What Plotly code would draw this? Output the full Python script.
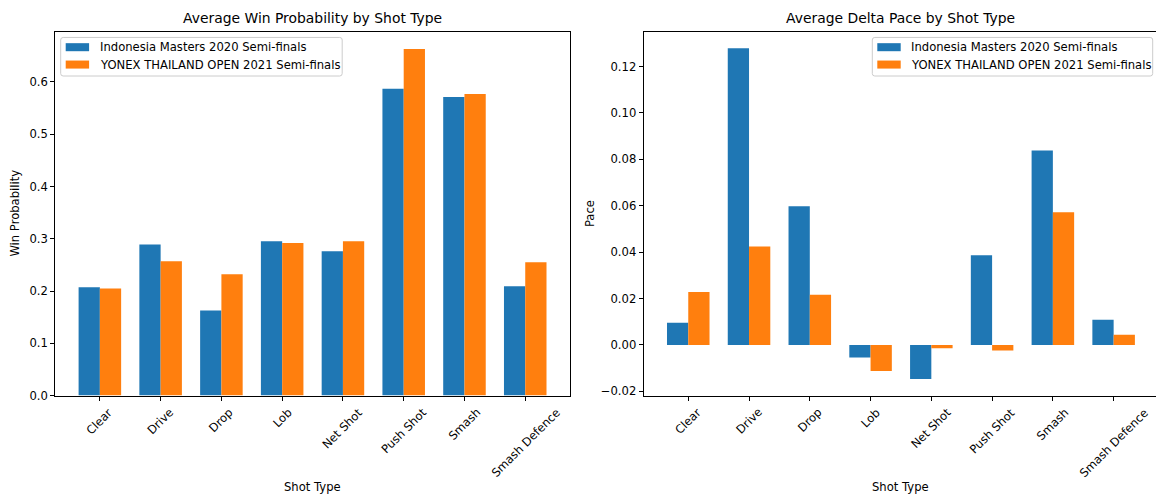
import plotly.graph_objects as go

# Shot types and per-tournament averages
categories = ["Clear", "Drive", "Drop", "Lob", "Net Shot", "Push Shot", "Smash", "Smash Defence"]
series_names = ["Indonesia Masters 2020 Semi-finals", "YONEX THAILAND OPEN 2021 Semi-finals"]

win_indonesia = [0.207, 0.289, 0.163, 0.295, 0.276, 0.587, 0.571, 0.209]
win_thailand = [0.205, 0.257, 0.232, 0.292, 0.295, 0.663, 0.577, 0.255]

pace_indonesia = [0.0096, 0.1279, 0.0598, -0.0054, -0.0147, 0.0387, 0.0838, 0.0109]
pace_thailand = [0.0228, 0.0424, 0.0216, -0.0112, -0.0014, -0.0024, 0.0572, 0.0044]

# layout is designed on a 1156 x 494 grid; the figure itself is a little taller
W, H = 1156, 494
FIG_H = 503
BLUE, ORANGE = "#1f77b4", "#ff7f0e"
FONT = "DejaVu Sans"
FS = 11.6
TITLE_FS = 13.9
BAR_W = 0.35


def px(x):
    return x / W


def py(y):
    return 1 - y / H


x_idx = list(range(len(categories)))

# axes geometry (pixels)
AX_TOP, AX_BOT = 31.5, 394
L_LEFT, L_RIGHT = 55.2, 569.9
R_LEFT = 643.6
UNIT_PX = (L_RIGHT - L_LEFT) / 8.47
r_hi = -0.735 + (W - R_LEFT) / UNIT_PX

fig = go.Figure()

panels = [
    ("x", "y", win_indonesia, win_thailand),
    ("x2", "y2", pace_indonesia, pace_thailand),
]
for xa, ya, s1, s2 in panels:
    fig.add_trace(go.Bar(x=x_idx, y=s1, name=series_names[0], marker=dict(color=BLUE, line=dict(width=0)),
                         width=BAR_W, offset=-BAR_W, xaxis=xa, yaxis=ya, showlegend=False))
    fig.add_trace(go.Bar(x=x_idx, y=s2, name=series_names[1], marker=dict(color=ORANGE, line=dict(width=0)),
                         width=BAR_W, offset=0, xaxis=xa, yaxis=ya, showlegend=False))

# y limits with 5% headroom (bars anchored at zero on the first panel)
win_top = max(win_indonesia + win_thailand) * 1.05
p_all = pace_indonesia + pace_thailand
p_lo, p_hi = min(p_all), max(p_all)
p_span = p_hi - p_lo
pace_range = [p_lo - 0.05 * p_span, p_hi + 0.05 * p_span]

ydom = [py(AX_BOT), py(AX_TOP)]
axis_common = dict(showgrid=False, zeroline=False, showline=True, linecolor="black", linewidth=1,
                   ticks="outside", ticklen=4, tickwidth=1, tickcolor="black",
                   tickfont=dict(family=FONT, size=FS, color="black"))

fig.update_layout(
    width=W, height=FIG_H,
    margin=dict(l=0, r=0, t=0, b=0),
    paper_bgcolor="white", plot_bgcolor="white",
    barmode="overlay",
    font=dict(family=FONT, size=FS, color="black"),
    xaxis=dict(domain=[px(L_LEFT), px(L_RIGHT)], range=[-0.735, 7.735], tickvals=x_idx,
               showticklabels=False, mirror=True, anchor="y", **axis_common),
    yaxis=dict(domain=ydom, range=[0, win_top], dtick=0.1, tickformat=".1f", mirror=True,
               anchor="x", **axis_common),
    xaxis2=dict(domain=[px(R_LEFT), 1.0], range=[-0.735, r_hi], tickvals=x_idx,
                showticklabels=False, mirror=True, anchor="y2", **axis_common),
    yaxis2=dict(domain=ydom, range=pace_range, dtick=0.02, tickformat=".2f", mirror=False,
                anchor="x2", **axis_common),
)

annotations = []
# rotated category labels under each panel
for xref in ("x", "x2"):
    for i, cat in enumerate(categories):
        annotations.append(dict(x=i, y=py(AX_BOT), xref=xref, yref="paper", text=cat, showarrow=False,
                                textangle=-45, xanchor="center", yanchor="top", yshift=-7,
                                font=dict(family=FONT, size=FS, color="black")))

panel_info = [
    (L_LEFT, L_RIGHT, "Average Win Probability by Shot Type", "Win Probability", 15.0),
    (R_LEFT, R_LEFT + 8.47 * UNIT_PX, "Average Delta Pace by Shot Type", "Pace", 589.5),
]
for left, right, title, ylab, ylab_x in panel_info:
    cx = px((left + right) / 2)
    annotations.append(dict(x=cx, y=py(AX_TOP), xref="paper", yref="paper", text=title, showarrow=False,
                            xanchor="center", yanchor="bottom", yshift=4,
                            font=dict(family=FONT, size=TITLE_FS, color="black")))
    annotations.append(dict(x=cx, y=py(485), xref="paper", yref="paper", text="Shot Type", showarrow=False,
                            xanchor="center", yanchor="middle",
                            font=dict(family=FONT, size=FS, color="black")))
    annotations.append(dict(x=px(ylab_x), y=py((AX_TOP + AX_BOT) / 2), xref="paper", yref="paper", text=ylab,
                            showarrow=False, textangle=-90, xanchor="center", yanchor="middle",
                            font=dict(family=FONT, size=FS, color="black")))

# legend boxes drawn per panel
shapes = []


def rounded_rect(x0, y0, x1, y1, r):
    X = [px(v) for v in (x0, x0 + r, x1 - r, x1)]
    Y = [py(v) for v in (y0, y0 + r, y1 - r, y1)]
    return (f"M{X[1]},{Y[0]} L{X[2]},{Y[0]} Q{X[3]},{Y[0]} {X[3]},{Y[1]} "
            f"L{X[3]},{Y[2]} Q{X[3]},{Y[3]} {X[2]},{Y[3]} L{X[1]},{Y[3]} "
            f"Q{X[0]},{Y[3]} {X[0]},{Y[2]} L{X[0]},{Y[1]} Q{X[0]},{Y[0]} {X[1]},{Y[0]} Z")


legend_boxes = [(60.7, 342.2), (872.3, 1152.7)]
row_centers = [47.0, 64.3]
for bx0, bx1 in legend_boxes:
    shapes.append(dict(type="path", xref="paper", yref="paper", path=rounded_rect(bx0, 37.3, bx1, 75.7, 2.5),
                       line=dict(color="#cccccc", width=1), fillcolor="rgba(255,255,255,0.8)", layer="above"))
    for rc, color, name in zip(row_centers, (BLUE, ORANGE), series_names):
        shapes.append(dict(type="rect", xref="paper", yref="paper", x0=px(bx0 + 5.0), x1=px(bx0 + 28.4),
                           y0=py(rc + 4.0), y1=py(rc - 4.0), fillcolor=color, line=dict(width=0), layer="above"))
        annotations.append(dict(x=px(bx0 + 37.0), y=py(rc), xref="paper", yref="paper", text=name,
                                showarrow=False, xanchor="left", yanchor="middle",
                                font=dict(family=FONT, size=FS, color="black")))

fig.update_layout(annotations=annotations, shapes=shapes)

fig.write_html("out.html")
